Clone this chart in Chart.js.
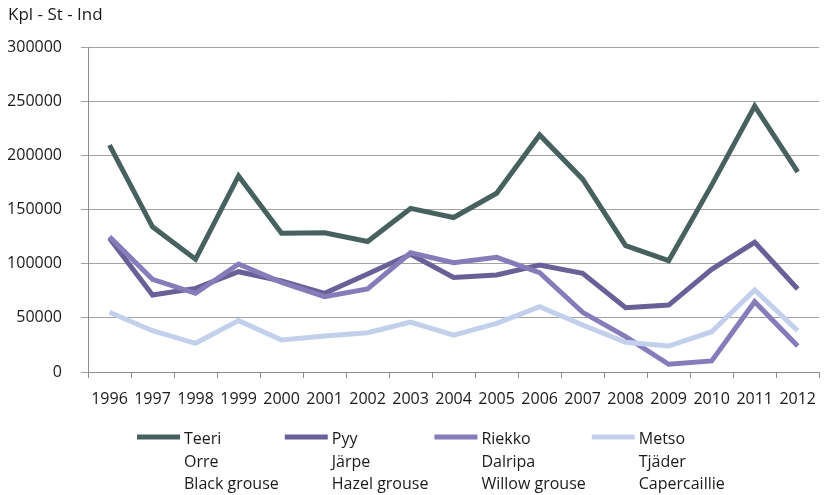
<!DOCTYPE html>
<html>
<head>
<meta charset="utf-8">
<script src="https://cdn.jsdelivr.net/npm/chart.js@4.4.1/dist/chart.umd.min.js"></script>
<style>
  html, body { margin: 0; padding: 0; background: #fff; overflow: hidden; }
  canvas { display: block; }
</style>
</head>
<body>
<canvas id="kanalinnut" width="828" height="495" style="width:828px;height:495px"></canvas>
<script>
var years = ['1996', '1997', '1998', '1999', '2000', '2001', '2002', '2003', '2004',
             '2005', '2006', '2007', '2008', '2009', '2010', '2011', '2012'];

var teeri  = [209500, 134000, 104000, 181000, 128000, 128600, 120500, 151000, 142600,
              165000, 218800, 178000, 116600, 102800, 172500, 245500, 184800];
var pyy    = [123400, 71000, 77200, 92600, 84000, 72600, 90400, 108600, 87200,
              89500, 98800, 91100, 59400, 61800, 94800, 119700, 76600];
var riekko = [124900, 85500, 72600, 99700, 82800, 69500, 76600, 110000, 100900,
              105800, 91700, 55100, 32600, 7100, 10200, 64900, 24000];
var metso  = [55100, 38100, 26500, 47400, 29500, 33200, 36300, 46100, 34100,
              44900, 60300, 43400, 27400, 24000, 37200, 75700, 38100];

var yTicks = [0, 50000, 100000, 150000, 200000, 250000, 300000];

var namesFi = ['Teeri', 'Pyy', 'Riekko', 'Metso'];
var namesSv = ['Orre', 'Järpe', 'Dalripa', 'Tjäder'];
var namesEn = ['Black grouse', 'Hazel grouse', 'Willow grouse', 'Capercaillie'];
var colors  = ['#47615f', '#6a5f97', '#877cba', '#c3d0ec'];

var fontName = '"Open Sans", "Noto Sans", sans-serif';
var textColor = '#1a1a1a';

// otsikko vasempaan yläkulmaan
var unitLabel = {
    id: 'unitLabel',
    afterDraw: function (chart) {
        var c = chart.ctx;
        c.save();
        c.font = '17px ' + fontName;
        c.fillStyle = textColor;
        c.textBaseline = 'middle';
        c.textAlign = 'left';
        c.fillText('Kpl - St - Ind', 8, 15);
        c.restore();
    }
};

// kolmikielinen selite kaavion alle
var multiLegend = {
    id: 'multiLegend',
    afterDraw: function (chart) {
        var c = chart.ctx;
        c.save();
        c.font = '16px ' + fontName;
        c.fillStyle = textColor;
        c.textBaseline = 'middle';
        c.textAlign = 'left';
        var x = 137;
        var rows = [439, 462, 484];
        for (var i = 0; i < namesFi.length; i++) {
            c.strokeStyle = colors[i];
            c.lineWidth = 5;
            c.beginPath();
            c.moveTo(x, 437);
            c.lineTo(x + 43, 437);
            c.stroke();
            var tx = x + 47;
            var lines = [namesFi[i], namesSv[i], namesEn[i]];
            var w = 0;
            for (var j = 0; j < lines.length; j++) {
                c.fillText(lines[j], tx, rows[j]);
                w = Math.max(w, c.measureText(lines[j]).width);
            }
            x = tx + w + 6;
        }
        c.restore();
    }
};

function series(label, data, idx) {
    return {
        label: label,
        data: data,
        borderColor: colors[idx],
        backgroundColor: colors[idx],
        borderWidth: 5,
        pointRadius: 0,
        tension: 0,
        fill: false,
        order: 3 - idx
    };
}

var myChart = new Chart(document.getElementById('kanalinnut'), {
    type: 'line',
    data: {
        labels: years,
        datasets: [
            series('Teeri', teeri, 0),
            series('Pyy', pyy, 1),
            series('Riekko', riekko, 2),
            series('Metso', metso, 3)
        ]
    },
    options: {
        responsive: false,
        animation: false,
        devicePixelRatio: 1,
        layout: { padding: { left: 8, top: 47, right: 0, bottom: 0 } },
        scales: {
            x: {
                offset: true,
                afterFit: function (s) { s.height = 123; },
                grid: {
                    offset: true,
                    drawOnChartArea: false,
                    drawTicks: true,
                    tickLength: 6,
                    color: '#8c8c8c'
                },
                border: { display: true, color: '#8c8c8c' },
                ticks: {
                    color: textColor,
                    font: { family: fontName, size: 16 },
                    maxRotation: 0,
                    autoSkip: false,
                    padding: 12
                }
            },
            y: {
                min: 0,
                max: 300000,
                afterFit: function (s) { s.width = 80; },
                afterBuildTicks: function (s) {
                    s.ticks = yTicks.map(function (v) { return { value: v }; });
                },
                grid: {
                    color: '#a3a3a3',
                    drawTicks: true,
                    tickLength: 7
                },
                border: { display: true, color: '#8c8c8c' },
                ticks: {
                    color: textColor,
                    font: { family: fontName, size: 16 },
                    padding: 19,
                    callback: function (v) { return String(v); }
                }
            }
        },
        plugins: {
            legend: { display: false },
            tooltip: { enabled: false },
            title: { display: false }
        }
    },
    plugins: [unitLabel, multiLegend]
});
</script>
</body>
</html>
